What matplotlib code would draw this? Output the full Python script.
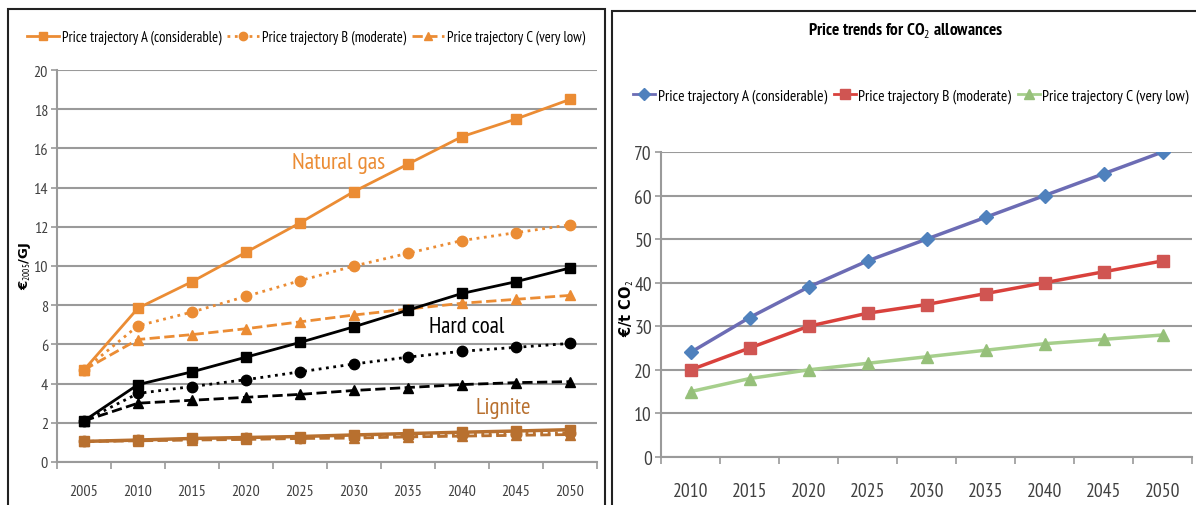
import matplotlib.pyplot as plt
from matplotlib.lines import Line2D
from matplotlib.patches import Rectangle
import numpy as np

plt.rcParams['font.family'] = ['PT Sans Narrow', 'Carlito', 'DejaVu Sans']
plt.rcParams['mathtext.fontset'] = 'custom'
plt.rcParams['mathtext.rm'] = 'PT Sans Narrow'
plt.rcParams['mathtext.bf'] = 'PT Sans Narrow:bold'

# left panel: fuel prices (EUR2005/GJ)
years_fuel = ['2005', '2010', '2015', '2020', '2025', '2030', '2035', '2040', '2045', '2050']
gas_a = [4.7, 7.85, 9.2, 10.7, 12.2, 13.8, 15.2, 16.6, 17.5, 18.5]
gas_b = [4.7, 6.95, 7.65, 8.45, 9.25, 10.0, 10.65, 11.3, 11.7, 12.1]
gas_c = [4.7, 6.25, 6.5, 6.8, 7.15, 7.5, 7.8, 8.1, 8.3, 8.5]
coal_a = [2.1, 3.95, 4.6, 5.35, 6.1, 6.9, 7.75, 8.6, 9.2, 9.9]
coal_b = [2.1, 3.5, 3.85, 4.2, 4.6, 5.0, 5.35, 5.65, 5.85, 6.05]
coal_c = [2.1, 3.0, 3.15, 3.3, 3.45, 3.65, 3.8, 3.95, 4.05, 4.1]
lig_a = [1.05, 1.12, 1.2, 1.25, 1.3, 1.38, 1.45, 1.52, 1.58, 1.65]
lig_b = [1.05, 1.1, 1.15, 1.2, 1.25, 1.3, 1.35, 1.4, 1.45, 1.5]
lig_c = [1.05, 1.08, 1.12, 1.15, 1.2, 1.22, 1.28, 1.32, 1.36, 1.4]

# right panel: CO2 allowance prices (EUR/t)
years_co2 = ['2010', '2015', '2020', '2025', '2030', '2035', '2040', '2045', '2050']
co2_a = [24, 32, 39, 45, 50, 55, 60, 65, 70]
co2_b = [20, 25, 30, 33, 35, 37.5, 40, 42.5, 45]
co2_c = [15, 18, 20, 21.5, 23, 24.5, 26, 27, 28]

labels = ['Price trajectory A (considerable)', 'Price trajectory B (moderate)',
          'Price trajectory C (very low)']

orange = '#EB8C34'
brown = '#B8702F'
grid_c = '#9A9A9A'
tick_c = '#404040'

fig = plt.figure(figsize=(11.96, 5.06), dpi=100)

# panel frames
fig.patches.append(Rectangle((8 / 1196, -0.01), 597 / 1196, 1 - 10 / 506 + 0.01,
                             transform=fig.transFigure, fill=False, lw=1.5, ec='#222222'))
fig.patches.append(Rectangle((612 / 1196, -0.01), 590 / 1196, 1 - 12 / 506 + 0.01,
                             transform=fig.transFigure, fill=False, lw=1.5, ec='#222222'))


def style_axis(ax, n, ylim, ystep, fs, xpad):
    ax.set_xlim(-0.5, n - 0.5)
    ax.set_ylim(*ylim)
    ax.set_yticks(np.arange(ylim[0], ylim[1] + 0.1, ystep))
    ax.set_xticks(range(n))
    ax.set_xticks(np.arange(-0.5, n, 1), minor=True)
    ax.tick_params(axis='x', which='major', length=0, pad=xpad, labelsize=fs, colors=tick_c)
    ax.tick_params(axis='x', which='minor', length=5, color=grid_c, width=1.2)
    ax.tick_params(axis='y', length=4, pad=2.5, color=grid_c, width=1.2, labelsize=fs,
                   labelcolor=tick_c)
    ax.grid(axis='y', color=grid_c, lw=1.5)
    ax.set_axisbelow(True)
    for s in ['top', 'right']:
        ax.spines[s].set_visible(False)
    for s in ['left', 'bottom']:
        ax.spines[s].set_color(grid_c)
        ax.spines[s].set_linewidth(1.5)


# ---- left panel
ax1 = fig.add_axes([57 / 1196, 1 - 463 / 506, 540 / 1196, 392 / 506])
x1 = np.arange(len(years_fuel))
ms = 7.5
ax1.plot(x1, gas_a, color=orange, lw=2, marker='s', ms=ms)
ax1.plot(x1, gas_b, color=orange, lw=2, ls=':', marker='o', ms=ms)
ax1.plot(x1, gas_c, color=orange, lw=2, ls='--', marker='^', ms=ms)
ax1.plot(x1, coal_a, color='black', lw=2, marker='s', ms=ms)
ax1.plot(x1, coal_b, color='black', lw=2, ls=':', marker='o', ms=ms)
ax1.plot(x1, coal_c, color='black', lw=2, ls='--', marker='^', ms=ms)
ax1.plot(x1, lig_c, color=brown, lw=2, ls='--', marker='^', ms=ms)
ax1.plot(x1, lig_b, color=brown, lw=2, ls=':', marker='o', ms=ms)
ax1.plot(x1, lig_a, color=brown, lw=2.5, marker='s', ms=ms)
style_axis(ax1, len(years_fuel), (0, 20), 2, 11.5, 16)
ax1.set_xticklabels(years_fuel)
fig.text(25 / 1196, 1 - 266 / 506, '€$_{2005}$/GJ', rotation=90, ha='center', va='center',
         fontsize=9.5, fontweight='bold', family='DejaVu Sans')

ax1.text(4.71, 15.3, 'Natural gas', color=orange, fontsize=17, ha='center', va='center')
ax1.text(7.08, 6.9, 'Hard coal', color='black', fontsize=16.5, ha='center', va='center')
ax1.text(7.76, 2.8, 'Lignite', color=brown, fontsize=16.5, ha='center', va='center')

h1 = [Line2D([], [], color=orange, lw=2, marker='s', ms=6),
      Line2D([], [], color=orange, lw=2, ls=':', marker='o', ms=6),
      Line2D([], [], color=orange, lw=2, ls='--', marker='^', ms=6)]
fig.legend(h1, labels, loc='center', bbox_to_anchor=(306 / 1196, 1 - 38 / 506), ncol=3,
           frameon=False, fontsize=10.5, handlelength=2.2, handletextpad=0.2, columnspacing=0.4)

# ---- right panel
ax2 = fig.add_axes([661 / 1196, 1 - 458 / 506, 531 / 1196, 305 / 506])
x2 = np.arange(len(years_co2))
ax2.plot(x2, co2_a, color='#6C6CB4', lw=2.5, marker='D', ms=7, mfc='#4F81BD', mec='#4F81BD')
ax2.plot(x2, co2_b, color='#D9413C', lw=2.5, marker='s', ms=8, mfc='#D05552', mec='#D05552')
ax2.plot(x2, co2_c, color='#A6CF8C', lw=2.5, marker='^', ms=8, mfc='#96C07A', mec='#96C07A')
style_axis(ax2, len(years_co2), (0, 70), 10, 14, 18)
ax2.set_xticklabels(years_co2)
fig.text(627 / 1196, 1 - 308 / 506, '€/t CO$_2$', rotation=90, ha='center', va='center',
         fontsize=10.5, fontweight='bold', family='DejaVu Sans')

fig.text(906 / 1196, 1 - 30 / 506, 'Price trends for CO$_2$ allowances', ha='center',
         va='center', fontsize=12.5, fontweight='bold')
h2 = [Line2D([], [], color='#6C6CB4', lw=2, marker='D', ms=6, mfc='#4F81BD', mec='#4F81BD'),
      Line2D([], [], color='#D9413C', lw=2, marker='s', ms=7, mfc='#D05552', mec='#D05552'),
      Line2D([], [], color='#A6CF8C', lw=2, marker='^', ms=7, mfc='#96C07A', mec='#96C07A')]
fig.legend(h2, labels, loc='center', bbox_to_anchor=(911 / 1196, 1 - 97 / 506), ncol=3,
           frameon=False, fontsize=11.2, handlelength=1.4, handletextpad=0.15, columnspacing=0.45)

fig.savefig('out.png', dpi=100)
